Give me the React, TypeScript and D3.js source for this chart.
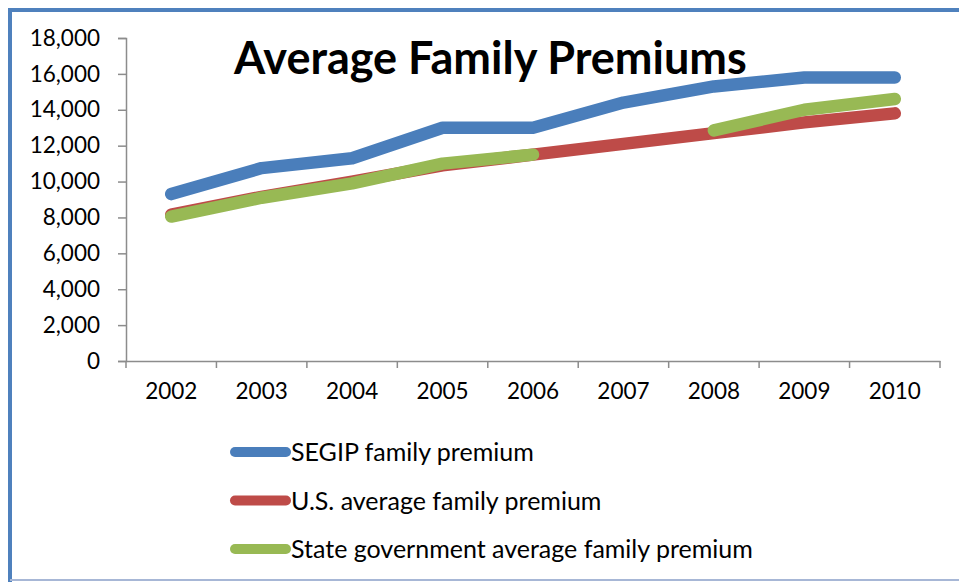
import { useEffect, useRef } from "react";
import * as d3 from "d3";

const years = ["2002", "2003", "2004", "2005", "2006", "2007", "2008", "2009", "2010"];
const segipPremium = [9300, 10750, 11300, 13000, 13000, 14400, 15300, 15800, 15800];
const usPremium = [8150, 9150, 10000, 10900, 11500, 12100, 12700, 13300, 13800];
const statePremium: (number | null)[] = [8050, 9100, 9900, 11000, 11500, null, 12850, 14000, 14600];
const yTicks = [0, 2000, 4000, 6000, 8000, 10000, 12000, 14000, 16000, 18000];

const series = [
  { name: "SEGIP family premium", values: segipPremium, color: "#4A7EBB" },
  { name: "U.S. average family premium", values: usPremium, color: "#BE4B48" },
  { name: "State government average family premium", values: statePremium, color: "#98B954" },
];

const W = 959;
const H = 582;
const FONT = "Lato, 'Open Sans', sans-serif";

export default function App() {
  const svgRef = useRef<SVGSVGElement>(null);

  useEffect(() => {
    if (!svgRef.current) return;
    const svg = d3.select(svgRef.current);
    svg.selectAll("*").remove();

    const plot = { left: 126, right: 940, top: 38, bottom: 361 };

    // frame
    svg.append("rect").attr("width", W).attr("height", H).attr("fill", "#fff");
    svg.append("line").attr("x1", 10).attr("x2", W).attr("y1", 10).attr("y2", 10)
      .attr("stroke", "#4F81BD").attr("stroke-width", 4);
    svg.append("line").attr("x1", 10).attr("x2", 10).attr("y1", 8).attr("y2", H)
      .attr("stroke", "#4F81BD").attr("stroke-width", 4);
    svg.append("line").attr("x1", 10).attr("x2", W).attr("y1", 580).attr("y2", 580)
      .attr("stroke", "#A7B7D6").attr("stroke-width", 2);

    const x = d3.scaleBand().domain(years).range([plot.left, plot.right]).padding(0);
    const y = d3.scaleLinear().domain([0, 18000]).range([plot.bottom, plot.top]);

    const axisColor = "#8C8C8C";

    // y axis
    const yAxis = svg.append("g")
      .attr("transform", `translate(${plot.left},0)`)
      .call(d3.axisLeft(y).tickValues(yTicks).tickSize(8).tickPadding(18)
        .tickFormat((d) => d3.format(",")(d as number)));
    yAxis.select(".domain").attr("stroke", axisColor).attr("stroke-width", 1.5);
    yAxis.selectAll(".tick line").attr("stroke", axisColor).attr("stroke-width", 1.5);
    yAxis.selectAll("text")
      .attr("fill", "#000")
      .style("font-family", FONT)
      .style("font-size", "22.5px");

    // x axis
    const xAxis = svg.append("g")
      .attr("transform", `translate(0,${plot.bottom})`)
      .call(d3.axisBottom(x).tickSize(0).tickPadding(22));
    xAxis.select(".domain").attr("stroke", axisColor).attr("stroke-width", 1.5);
    xAxis.selectAll("text")
      .attr("fill", "#000")
      .style("font-family", FONT)
      .style("font-size", "22.5px");

    const bounds = [...years.map((d) => x(d) || 0), plot.right];
    xAxis.selectAll(".bound")
      .data(bounds)
      .enter()
      .append("line")
      .attr("x1", (d) => d)
      .attr("x2", (d) => d)
      .attr("y1", 0)
      .attr("y2", 7)
      .attr("stroke", axisColor)
      .attr("stroke-width", 1.5);

    // lines
    const cx = (i: number) => (x(years[i]) || 0) + x.bandwidth() / 2;
    series.forEach((s) => {
      const line = d3.line<number | null>()
        .defined((d) => d !== null)
        .x((_d, i) => cx(i))
        .y((d) => y(d as number));
      svg.append("path")
        .datum(s.values)
        .attr("d", line)
        .attr("fill", "none")
        .attr("stroke", s.color)
        .attr("stroke-width", 12.5)
        .attr("stroke-linecap", "round")
        .attr("stroke-linejoin", "round");
    });

    // title
    svg.append("text")
      .attr("x", 234)
      .attr("y", 74)
      .attr("fill", "#000")
      .style("font-family", FONT)
      .style("font-weight", "bold")
      .style("font-size", "45px")
      .text("Average Family Premiums");

    // legend
    const legend = svg.append("g");
    series.forEach((s, i) => {
      const ly = 452 + i * 48.5;
      legend.append("line")
        .attr("x1", 235).attr("x2", 286)
        .attr("y1", ly).attr("y2", ly)
        .attr("stroke", s.color)
        .attr("stroke-width", 10)
        .attr("stroke-linecap", "round");
      legend.append("text")
        .attr("x", 291)
        .attr("y", ly)
        .attr("dy", "0.36em")
        .attr("fill", "#000")
        .style("font-family", FONT)
        .style("font-size", "25px")
        .text(s.name);
    });
  }, []);

  return (
    <svg
      ref={svgRef}
      width={W}
      height={H}
      viewBox={`0 0 ${W} ${H}`}
      style={{ position: "absolute", left: 0, top: 0, display: "block" }}
    />
  );
}
